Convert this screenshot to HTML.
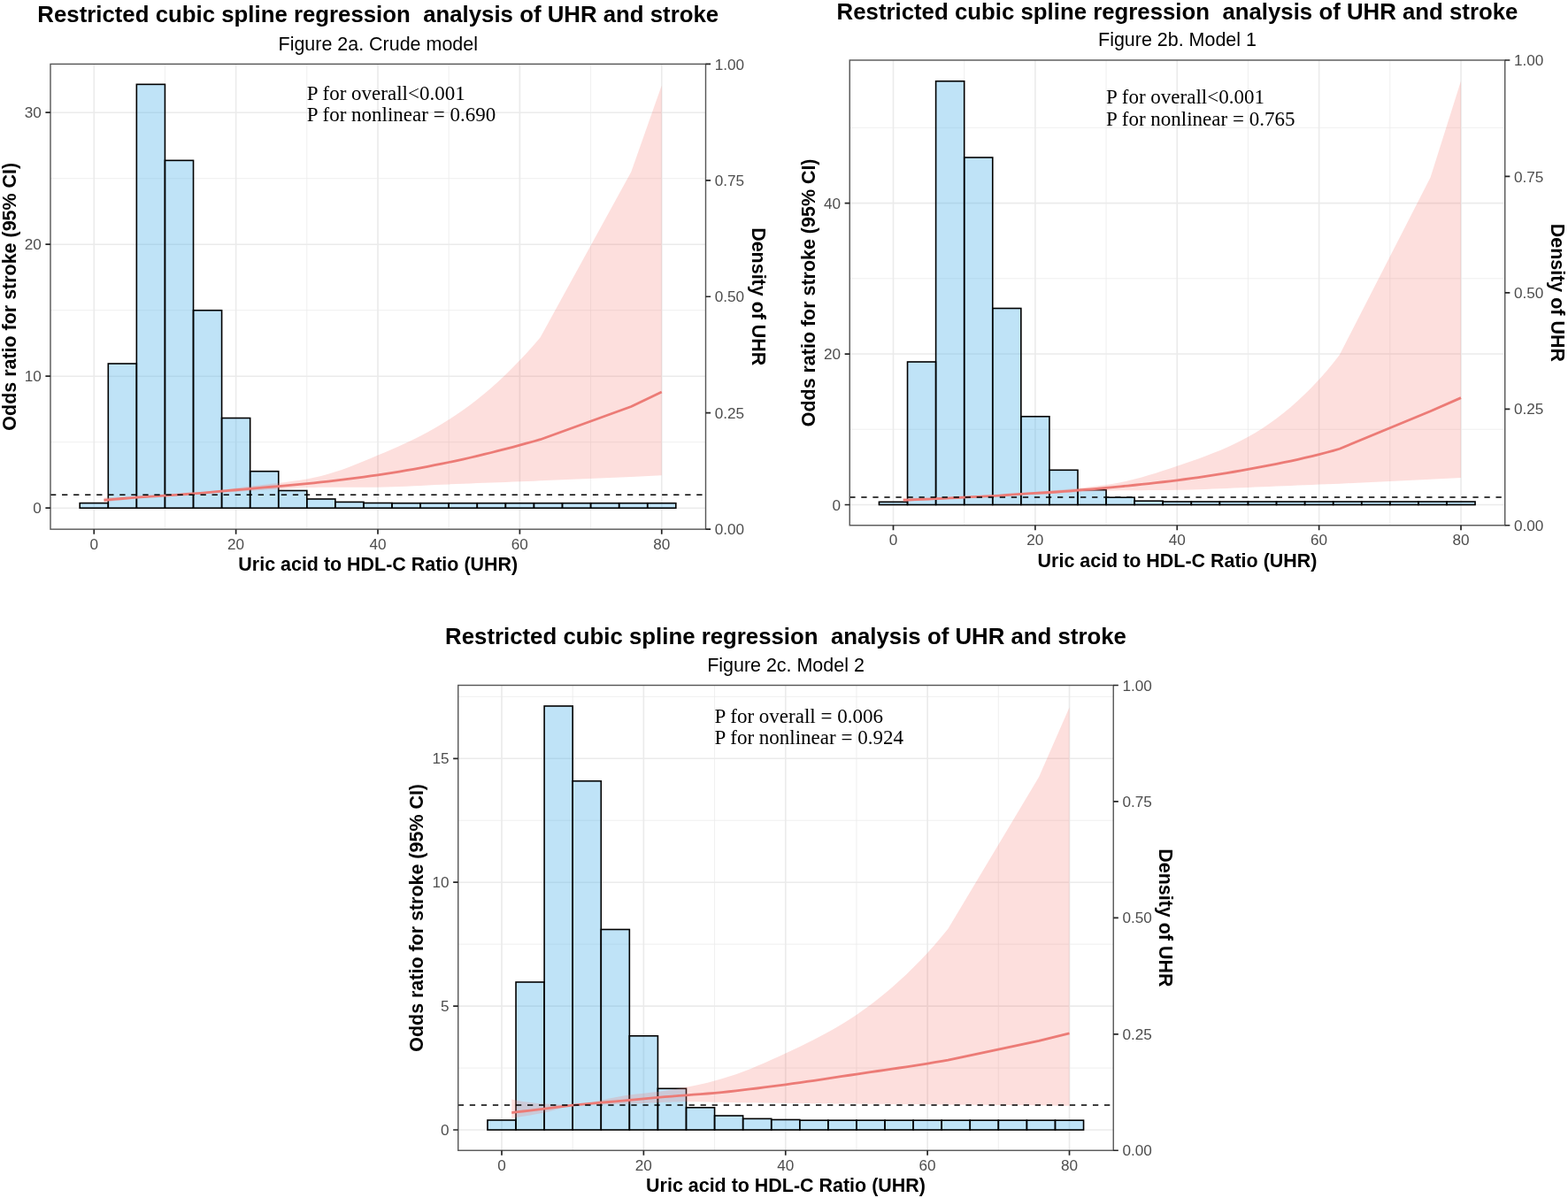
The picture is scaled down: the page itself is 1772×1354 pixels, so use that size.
<!DOCTYPE html>
<html lang="en">
<head>
<meta charset="utf-8">
<title>Restricted cubic spline regression analysis of UHR and stroke</title>
<style>
html,body{margin:0;padding:0;background:#fff;}
body{width:1772px;height:1354px;overflow:hidden;}
svg{display:block;}
text{font-family:"Liberation Sans",Arial,Helvetica,sans-serif;fill:#000;}
.ttl{font-size:25.80px;font-weight:bold;}
.sub{font-size:21.46px;}
.ax{font-size:21.46px;font-weight:bold;}
.tk text{font-size:17.17px;fill:#4D4D4D;}
.ann{font-family:"Liberation Serif","Times New Roman",Times,serif;font-size:23px;}
</style>
</head>
<body>
<svg width="1772" height="1354" viewBox="0 0 1772 1354">
<rect width="1772" height="1354" fill="#fff"/>
<g>
<text x="427.25" y="24.9" class="ttl" text-anchor="middle" xml:space="preserve">Restricted cubic spline regression  analysis of UHR and stroke</text>
<text x="427.25" y="57.1" class="sub" text-anchor="middle">Figure 2a. Crude model</text>
<rect x="57" y="72.4" width="740.5" height="525.75" fill="#fff"/>
<path d="M57 499.7H797.5M57 350.7H797.5M57 201.7H797.5M186.44 72.4V598.15M346.82 72.4V598.15M507.2 72.4V598.15M667.58 72.4V598.15" stroke="#EBEBEB" stroke-width="0.81" fill="none"/>
<path d="M57 574.2H797.5M57 425.2H797.5M57 276.2H797.5M57 127.2H797.5M106.25 72.4V598.15M266.63 72.4V598.15M427.01 72.4V598.15M587.39 72.4V598.15M747.77 72.4V598.15" stroke="#EBEBEB" stroke-width="1.63" fill="none"/>
<g fill="#56B4E9" fill-opacity="0.375" stroke="#000" stroke-width="1.6" stroke-linejoin="miter"><rect x="90.21" y="568.6" width="32.08" height="5.6"/><rect x="122.29" y="411" width="32.08" height="163.2"/><rect x="154.36" y="95.35" width="32.08" height="478.85"/><rect x="186.44" y="181.35" width="32.08" height="392.85"/><rect x="218.52" y="350.75" width="32.08" height="223.45"/><rect x="250.59" y="472.5" width="32.08" height="101.7"/><rect x="282.67" y="532.7" width="32.08" height="41.5"/><rect x="314.74" y="554.5" width="32.08" height="19.7"/><rect x="346.82" y="564" width="32.08" height="10.2"/><rect x="378.9" y="567.4" width="32.08" height="6.8"/><rect x="410.97" y="568.5" width="32.08" height="5.7"/><rect x="443.05" y="568.7" width="32.08" height="5.5"/><rect x="475.12" y="568.7" width="32.08" height="5.5"/><rect x="507.2" y="568.7" width="32.08" height="5.5"/><rect x="539.28" y="568.7" width="32.08" height="5.5"/><rect x="571.35" y="568.7" width="32.08" height="5.5"/><rect x="603.43" y="568.7" width="32.08" height="5.5"/><rect x="635.5" y="568.7" width="32.08" height="5.5"/><rect x="667.58" y="568.7" width="32.08" height="5.5"/><rect x="699.66" y="568.7" width="32.08" height="5.5"/><rect x="731.73" y="568.7" width="32.08" height="5.5"/></g>
<path d="M117.48 562.58L122.29 562.33L130.31 561.93L138.33 561.54L146.34 561.16L154.36 560.79L162.38 560.46L170.4 560.15L178.42 559.84L186.44 559.5L194.46 559.08L202.48 558.58L210.5 558.01L218.52 557.36L226.53 556.58L234.55 555.65L242.57 554.64L250.59 553.64L258.61 552.65L266.63 551.63L274.65 550.61L282.67 549.62L290.69 548.68L298.71 547.77L306.73 546.86L314.74 545.89L322.76 544.88L330.78 543.86L338.8 542.73L346.82 541.42L354.84 539.83L362.86 537.95L370.88 535.78L378.9 533.33L386.92 530.63L394.93 527.69L402.95 524.56L410.97 521.29L418.99 517.94L427.01 514.6L435.03 511.25L443.05 507.8L451.07 504.23L459.09 500.53L467.11 496.69L475.12 492.67L483.14 488.46L491.16 484.03L499.18 479.35L507.2 474.37L515.22 469.09L523.24 463.52L531.26 457.66L539.28 451.48L547.3 444.98L555.31 438.16L563.33 430.98L571.35 423.46L579.37 415.58L587.39 407.32L595.41 398.76L603.43 389.81L610.65 381.25L713.29 194.25L747.77 96.51L747.77 537.25L713.29 538.89L610.65 543.36L603.43 543.64L595.41 543.94L587.39 544.25L579.37 544.56L571.35 544.88L563.33 545.19L555.31 545.5L547.3 545.81L539.28 546.12L531.26 546.43L523.24 546.74L515.22 547.06L507.2 547.38L499.18 547.73L491.16 548.12L483.14 548.54L475.12 548.96L467.11 549.37L459.09 549.75L451.07 550.09L443.05 550.36L435.03 550.55L427.01 550.66L418.99 550.7L410.97 550.74L402.95 550.76L394.93 550.78L386.92 550.79L378.9 550.81L370.88 550.83L362.86 550.86L354.84 550.9L346.82 550.96L338.8 551.21L330.78 551.73L322.76 552.35L314.74 552.89L306.73 553.35L298.71 553.79L290.69 554.23L282.67 554.68L274.65 555.15L266.63 555.64L258.61 556.13L250.59 556.62L242.57 557.14L234.55 557.69L226.53 558.18L218.52 558.56L210.5 558.78L202.48 558.95L194.46 559.15L186.44 559.54L178.42 560.34L170.4 561.39L162.38 562.49L154.36 563.47L146.34 564.36L138.33 565.24L130.31 566.08L122.29 566.89L117.48 567.35Z" fill="#F8766D" fill-opacity="0.23"/>
<path d="M117.48 565.26L122.29 564.85L130.31 564.17L138.33 563.49L146.34 562.83L154.36 562.21L162.38 561.63L170.4 561.09L178.42 560.57L186.44 560.05L194.46 559.53L202.48 559.03L210.5 558.52L218.52 557.96L226.53 557.33L234.55 556.64L242.57 555.92L250.59 555.2L258.61 554.48L266.63 553.75L274.65 553.02L282.67 552.3L290.69 551.6L298.71 550.92L306.73 550.24L314.74 549.56L322.76 548.88L330.78 548.17L338.8 547.42L346.82 546.63L354.84 545.81L362.86 544.94L370.88 544.05L378.9 543.13L386.92 542.17L394.93 541.17L402.95 540.14L410.97 539.07L418.99 537.95L427.01 536.8L435.03 535.6L443.05 534.34L451.07 533.04L459.09 531.68L467.11 530.26L475.12 528.8L483.14 527.29L491.16 525.74L499.18 524.14L507.2 522.5L515.22 520.81L523.24 519.06L531.26 517.25L539.28 515.38L547.3 513.46L555.31 511.49L563.33 509.47L571.35 507.4L579.37 505.28L587.39 503.13L595.41 500.96L603.43 498.77L610.65 496.72L713.29 459.47L747.77 442.93" fill="none" stroke="#EC7B76" stroke-width="2.8" stroke-linejoin="round"/>
<path d="M57 559.3H797.5" stroke="#000" stroke-width="1.63" stroke-dasharray="6.3 6.74" fill="none"/>
<text x="346.82" y="113.1" class="ann">P for overall&lt;0.001</text>
<text x="346.82" y="137" class="ann">P for nonlinear = 0.690</text>
<rect x="57" y="72.4" width="740.5" height="525.75" fill="none" stroke="#555555" stroke-width="1.4"/>
<path d="M106.25 598.15v5.6M266.63 598.15v5.6M427.01 598.15v5.6M587.39 598.15v5.6M747.77 598.15v5.6M57 574.2h-5.6M57 425.2h-5.6M57 276.2h-5.6M57 127.2h-5.6M797.5 598.15h5.6M797.5 466.71h5.6M797.5 335.27h5.6M797.5 203.84h5.6M797.5 72.4h5.6" stroke="#262626" stroke-width="1.7" fill="none"/>
<g class="tk"><text x="106.25" y="620.75" text-anchor="middle">0</text><text x="266.63" y="620.75" text-anchor="middle">20</text><text x="427.01" y="620.75" text-anchor="middle">40</text><text x="587.39" y="620.75" text-anchor="middle">60</text><text x="747.77" y="620.75" text-anchor="middle">80</text><text x="46.8" y="580.3" text-anchor="end">0</text><text x="46.8" y="431.3" text-anchor="end">10</text><text x="46.8" y="282.3" text-anchor="end">20</text><text x="46.8" y="133.3" text-anchor="end">30</text><text x="807.7" y="604.25">0.00</text><text x="807.7" y="472.81">0.25</text><text x="807.7" y="341.38">0.50</text><text x="807.7" y="209.94">0.75</text><text x="807.7" y="78.5">1.00</text></g>
<text x="427.25" y="645.15" class="ax" text-anchor="middle">Uric acid to HDL-C Ratio (UHR)</text>
<text transform="translate(17.6 335.27) rotate(-90)" class="ax" text-anchor="middle">Odds ratio for stroke (95% CI)</text>
<text transform="translate(849.7 335.27) rotate(90)" class="ax" text-anchor="middle">Density of UHR</text>
</g>
<g>
<text x="1330.5" y="21.6" class="ttl" text-anchor="middle" xml:space="preserve">Restricted cubic spline regression  analysis of UHR and stroke</text>
<text x="1330.5" y="52" class="sub" text-anchor="middle">Figure 2b. Model 1</text>
<rect x="960.25" y="68" width="740.5" height="525.75" fill="#fff"/>
<path d="M960.25 485.27H1700.75M960.25 314.82H1700.75M960.25 144.37H1700.75M1089.69 68V593.75M1250.07 68V593.75M1410.45 68V593.75M1570.83 68V593.75" stroke="#EBEBEB" stroke-width="0.81" fill="none"/>
<path d="M960.25 570.5H1700.75M960.25 400.05H1700.75M960.25 229.6H1700.75M1009.5 68V593.75M1169.88 68V593.75M1330.26 68V593.75M1490.64 68V593.75M1651.02 68V593.75" stroke="#EBEBEB" stroke-width="1.63" fill="none"/>
<g fill="#56B4E9" fill-opacity="0.375" stroke="#000" stroke-width="1.6" stroke-linejoin="miter"><rect x="993.46" y="567.3" width="32.08" height="3.2"/><rect x="1025.54" y="409" width="32.08" height="161.5"/><rect x="1057.61" y="91.75" width="32.08" height="478.75"/><rect x="1089.69" y="178" width="32.08" height="392.5"/><rect x="1121.77" y="348.5" width="32.08" height="222"/><rect x="1153.84" y="470.75" width="32.08" height="99.75"/><rect x="1185.92" y="531.3" width="32.08" height="39.2"/><rect x="1217.99" y="553.7" width="32.08" height="16.8"/><rect x="1250.07" y="562.2" width="32.08" height="8.3"/><rect x="1282.15" y="566.2" width="32.08" height="4.3"/><rect x="1314.22" y="567" width="32.08" height="3.5"/><rect x="1346.3" y="567" width="32.08" height="3.5"/><rect x="1378.37" y="567" width="32.08" height="3.5"/><rect x="1410.45" y="567" width="32.08" height="3.5"/><rect x="1442.53" y="567" width="32.08" height="3.5"/><rect x="1474.6" y="567" width="32.08" height="3.5"/><rect x="1506.68" y="567" width="32.08" height="3.5"/><rect x="1538.75" y="567" width="32.08" height="3.5"/><rect x="1570.83" y="567" width="32.08" height="3.5"/><rect x="1602.91" y="567" width="32.08" height="3.5"/><rect x="1634.98" y="567" width="32.08" height="3.5"/></g>
<path d="M1020.73 562.83L1025.54 562.77L1033.56 562.68L1041.58 562.59L1049.6 562.5L1057.61 562.4L1065.63 562.32L1073.65 562.25L1081.67 562.17L1089.69 562.05L1097.71 561.85L1105.73 561.39L1113.75 560.76L1121.77 560.1L1129.79 559.45L1137.8 558.74L1145.82 558L1153.84 557.29L1161.86 556.62L1169.88 555.98L1177.9 555.33L1185.92 554.65L1193.94 553.94L1201.96 553.23L1209.97 552.51L1217.99 551.76L1226.01 550.96L1234.03 550.08L1242.05 549.1L1250.07 548L1258.09 546.71L1266.11 545.21L1274.13 543.49L1282.15 541.56L1290.16 539.43L1298.18 537.12L1306.2 534.65L1314.22 532.05L1322.24 529.38L1330.26 526.69L1338.28 524L1346.3 521.24L1354.32 518.39L1362.34 515.44L1370.36 512.36L1378.37 509.13L1386.39 505.7L1394.41 502.04L1402.43 498.09L1410.45 493.8L1418.47 489.14L1426.49 484.13L1434.51 478.75L1442.53 472.97L1450.55 466.78L1458.56 460.16L1466.58 453.1L1474.6 445.56L1482.62 437.54L1490.64 429.03L1498.66 419.91L1506.68 410.15L1513.9 400.9L1616.54 200.62L1651.02 91.54L1651.02 540.07L1616.54 541.78L1513.9 546.64L1506.68 546.93L1498.66 547.25L1490.64 547.57L1482.62 547.91L1474.6 548.25L1466.58 548.59L1458.56 548.93L1450.55 549.27L1442.53 549.6L1434.51 549.94L1426.49 550.26L1418.47 550.58L1410.45 550.9L1402.43 551.22L1394.41 551.56L1386.39 551.91L1378.37 552.26L1370.36 552.6L1362.34 552.91L1354.32 553.2L1346.3 553.44L1338.28 553.65L1330.26 553.8L1322.24 553.9L1314.22 553.99L1306.2 554.05L1298.18 554.11L1290.16 554.16L1282.15 554.21L1274.13 554.27L1266.11 554.35L1258.09 554.44L1250.07 554.56L1242.05 554.79L1234.03 555.16L1226.01 555.64L1217.99 556.17L1209.97 556.72L1201.96 557.25L1193.94 557.74L1185.92 558.14L1177.9 558.48L1169.88 558.79L1161.86 559.09L1153.84 559.42L1145.82 559.8L1137.8 560.2L1129.79 560.6L1121.77 560.95L1113.75 561.24L1105.73 561.5L1097.71 561.8L1089.69 562.2L1081.67 562.79L1073.65 563.46L1065.63 564.12L1057.61 564.7L1049.6 565.22L1041.58 565.71L1033.56 566.17L1025.54 566.6L1020.73 566.84Z" fill="#F8766D" fill-opacity="0.23"/>
<path d="M1020.73 565.22L1025.54 565.03L1033.56 564.72L1041.58 564.38L1049.6 564.04L1057.61 563.68L1065.63 563.3L1073.65 562.91L1081.67 562.51L1089.69 562.11L1097.71 561.72L1105.73 561.34L1113.75 560.95L1121.77 560.53L1129.79 560.04L1137.8 559.49L1145.82 558.93L1153.84 558.4L1161.86 557.92L1169.88 557.47L1177.9 557.02L1185.92 556.52L1193.94 555.98L1201.96 555.4L1209.97 554.79L1217.99 554.14L1226.01 553.47L1234.03 552.77L1242.05 552.05L1250.07 551.32L1258.09 550.58L1266.11 549.82L1274.13 549.05L1282.15 548.24L1290.16 547.42L1298.18 546.56L1306.2 545.68L1314.22 544.76L1322.24 543.8L1330.26 542.8L1338.28 541.76L1346.3 540.67L1354.32 539.55L1362.34 538.37L1370.36 537.16L1378.37 535.9L1386.39 534.6L1394.41 533.25L1402.43 531.87L1410.45 530.44L1418.47 528.98L1426.49 527.49L1434.51 525.95L1442.53 524.37L1450.55 522.73L1458.56 521.04L1466.58 519.29L1474.6 517.46L1482.62 515.56L1490.64 513.57L1498.66 511.5L1506.68 509.33L1513.9 507.26L1616.54 464.82L1651.02 449.65" fill="none" stroke="#EC7B76" stroke-width="2.8" stroke-linejoin="round"/>
<path d="M960.25 561.98H1700.75" stroke="#000" stroke-width="1.63" stroke-dasharray="6.3 6.74" fill="none"/>
<text x="1250.07" y="117" class="ann">P for overall&lt;0.001</text>
<text x="1250.07" y="141.75" class="ann">P for nonlinear = 0.765</text>
<rect x="960.25" y="68" width="740.5" height="525.75" fill="none" stroke="#555555" stroke-width="1.4"/>
<path d="M1009.5 593.75v5.6M1169.88 593.75v5.6M1330.26 593.75v5.6M1490.64 593.75v5.6M1651.02 593.75v5.6M960.25 570.5h-5.6M960.25 400.05h-5.6M960.25 229.6h-5.6M1700.75 593.75h5.6M1700.75 462.31h5.6M1700.75 330.88h5.6M1700.75 199.44h5.6M1700.75 68h5.6" stroke="#262626" stroke-width="1.7" fill="none"/>
<g class="tk"><text x="1009.5" y="616.35" text-anchor="middle">0</text><text x="1169.88" y="616.35" text-anchor="middle">20</text><text x="1330.26" y="616.35" text-anchor="middle">40</text><text x="1490.64" y="616.35" text-anchor="middle">60</text><text x="1651.02" y="616.35" text-anchor="middle">80</text><text x="950.05" y="576.6" text-anchor="end">0</text><text x="950.05" y="406.15" text-anchor="end">20</text><text x="950.05" y="235.7" text-anchor="end">40</text><text x="1710.95" y="599.85">0.00</text><text x="1710.95" y="468.41">0.25</text><text x="1710.95" y="336.98">0.50</text><text x="1710.95" y="205.54">0.75</text><text x="1710.95" y="74.1">1.00</text></g>
<text x="1330.5" y="640.75" class="ax" text-anchor="middle">Uric acid to HDL-C Ratio (UHR)</text>
<text transform="translate(920.85 330.88) rotate(-90)" class="ax" text-anchor="middle">Odds ratio for stroke (95% CI)</text>
<text transform="translate(1752.95 330.88) rotate(90)" class="ax" text-anchor="middle">Density of UHR</text>
</g>
<g>
<text x="888" y="728.1" class="ttl" text-anchor="middle" xml:space="preserve">Restricted cubic spline regression  analysis of UHR and stroke</text>
<text x="888" y="758.5" class="sub" text-anchor="middle">Figure 2c. Model 2</text>
<rect x="517.75" y="774.5" width="740.5" height="525.75" fill="#fff"/>
<path d="M517.75 1207.05H1258.25M517.75 1067.15H1258.25M517.75 927.25H1258.25M517.75 787.35H1258.25M647.19 774.5V1300.25M807.57 774.5V1300.25M967.95 774.5V1300.25M1128.33 774.5V1300.25" stroke="#EBEBEB" stroke-width="0.81" fill="none"/>
<path d="M517.75 1277H1258.25M517.75 1137.1H1258.25M517.75 997.2H1258.25M517.75 857.3H1258.25M567 774.5V1300.25M727.38 774.5V1300.25M887.76 774.5V1300.25M1048.14 774.5V1300.25M1208.52 774.5V1300.25" stroke="#EBEBEB" stroke-width="1.63" fill="none"/>
<g fill="#56B4E9" fill-opacity="0.375" stroke="#000" stroke-width="1.6" stroke-linejoin="miter"><rect x="550.96" y="1266" width="32.08" height="11"/><rect x="583.04" y="1110" width="32.08" height="167"/><rect x="615.11" y="798" width="32.08" height="479"/><rect x="647.19" y="882.75" width="32.08" height="394.25"/><rect x="679.27" y="1050.5" width="32.08" height="226.5"/><rect x="711.34" y="1170.8" width="32.08" height="106.2"/><rect x="743.42" y="1230.3" width="32.08" height="46.7"/><rect x="775.49" y="1251.8" width="32.08" height="25.2"/><rect x="807.57" y="1261" width="32.08" height="16"/><rect x="839.65" y="1264.4" width="32.08" height="12.6"/><rect x="871.72" y="1265.5" width="32.08" height="11.5"/><rect x="903.8" y="1266.2" width="32.08" height="10.8"/><rect x="935.87" y="1266.2" width="32.08" height="10.8"/><rect x="967.95" y="1266.2" width="32.08" height="10.8"/><rect x="1000.03" y="1266.2" width="32.08" height="10.8"/><rect x="1032.1" y="1266.2" width="32.08" height="10.8"/><rect x="1064.18" y="1266.2" width="32.08" height="10.8"/><rect x="1096.25" y="1266.2" width="32.08" height="10.8"/><rect x="1128.33" y="1266.2" width="32.08" height="10.8"/><rect x="1160.41" y="1266.2" width="32.08" height="10.8"/><rect x="1192.48" y="1266.2" width="32.08" height="10.8"/></g>
<path d="M578.23 1242.58L583.04 1243.51L591.06 1244.9L599.08 1246.07L607.1 1246.99L615.11 1247.62L623.13 1248.09L631.15 1248.5L639.17 1248.82L647.19 1249L655.21 1248.81L663.23 1247.44L671.25 1245.36L679.27 1243.42L687.28 1241.86L695.3 1240.29L703.32 1238.82L711.34 1237.55L719.36 1236.54L727.38 1235.69L735.4 1234.86L743.42 1233.91L751.44 1232.81L759.46 1231.61L767.48 1230.3L775.49 1228.87L783.51 1227.3L791.53 1225.56L799.55 1223.66L807.57 1221.6L815.59 1219.34L823.61 1216.86L831.63 1214.15L839.65 1211.24L847.66 1208.13L855.68 1204.85L863.7 1201.42L871.72 1197.86L879.74 1194.22L887.76 1190.54L895.78 1186.82L903.8 1183L911.82 1179.08L919.84 1175.03L927.86 1170.85L935.87 1166.5L943.89 1161.96L951.91 1157.2L959.93 1152.19L967.95 1146.89L975.97 1141.3L983.99 1135.42L992.01 1129.25L1000.03 1122.78L1008.05 1115.99L1016.06 1108.87L1024.08 1101.42L1032.1 1093.62L1040.12 1085.46L1048.14 1076.94L1056.16 1068L1064.18 1058.61L1071.4 1049.8L1174.04 878.28L1208.52 799.38L1208.52 1249.86L1174.04 1249.3L1071.4 1248.46L1064.18 1248.38L1056.16 1248.27L1048.14 1248.18L1040.12 1248.11L1032.1 1248.05L1024.08 1247.99L1016.06 1247.94L1008.05 1247.89L1000.03 1247.84L992.01 1247.79L983.99 1247.74L975.97 1247.68L967.95 1247.62L959.93 1247.55L951.91 1247.48L943.89 1247.4L935.87 1247.32L927.86 1247.24L919.84 1247.15L911.82 1247.06L903.8 1246.97L895.78 1246.88L887.76 1246.78L879.74 1246.68L871.72 1246.58L863.7 1246.48L855.68 1246.37L847.66 1246.26L839.65 1246.15L831.63 1246.03L823.61 1245.91L815.59 1245.79L807.57 1245.66L799.55 1245.5L791.53 1245.32L783.51 1245.17L775.49 1245.1L767.48 1245.22L759.46 1245.51L751.44 1245.87L743.42 1246.22L735.4 1246.57L727.38 1246.95L719.36 1247.31L711.34 1247.62L703.32 1247.87L695.3 1248.08L687.28 1248.28L679.27 1248.46L671.25 1248.6L663.23 1248.73L655.21 1248.9L647.19 1249.36L639.17 1250.96L631.15 1253.2L623.13 1255.5L615.11 1257.41L607.1 1258.99L599.08 1260.46L591.06 1261.84L583.04 1263.12L578.23 1263.85Z" fill="#F8766D" fill-opacity="0.23"/>
<path d="M578.23 1257.53L583.04 1256.96L591.06 1256.01L599.08 1255.05L607.1 1254.08L615.11 1253.11L623.13 1252.11L631.15 1251.1L639.17 1250.12L647.19 1249.22L655.21 1248.41L663.23 1247.66L671.25 1246.94L679.27 1246.22L687.28 1245.51L695.3 1244.83L703.32 1244.14L711.34 1243.42L719.36 1242.66L727.38 1241.87L735.4 1241.08L743.42 1240.35L751.44 1239.68L759.46 1239.05L767.48 1238.45L775.49 1237.83L783.51 1237.22L791.53 1236.61L799.55 1235.99L807.57 1235.31L815.59 1234.55L823.61 1233.74L831.63 1232.87L839.65 1231.95L847.66 1230.98L855.68 1229.99L863.7 1228.96L871.72 1227.91L879.74 1226.85L887.76 1225.8L895.78 1224.72L903.8 1223.61L911.82 1222.47L919.84 1221.3L927.86 1220.11L935.87 1218.9L943.89 1217.68L951.91 1216.46L959.93 1215.25L967.95 1214.05L975.97 1212.86L983.99 1211.68L992.01 1210.51L1000.03 1209.34L1008.05 1208.17L1016.06 1206.99L1024.08 1205.79L1032.1 1204.56L1040.12 1203.31L1048.14 1202.01L1056.16 1200.7L1064.18 1199.35L1071.4 1198.1L1174.04 1176.27L1208.52 1167.88" fill="none" stroke="#EC7B76" stroke-width="2.8" stroke-linejoin="round"/>
<path d="M517.75 1249.02H1258.25" stroke="#000" stroke-width="1.63" stroke-dasharray="6.3 6.74" fill="none"/>
<text x="807.57" y="816.5" class="ann">P for overall = 0.006</text>
<text x="807.57" y="841.1" class="ann">P for nonlinear = 0.924</text>
<rect x="517.75" y="774.5" width="740.5" height="525.75" fill="none" stroke="#555555" stroke-width="1.4"/>
<path d="M567 1300.25v5.6M727.38 1300.25v5.6M887.76 1300.25v5.6M1048.14 1300.25v5.6M1208.52 1300.25v5.6M517.75 1277h-5.6M517.75 1137.1h-5.6M517.75 997.2h-5.6M517.75 857.3h-5.6M1258.25 1300.25h5.6M1258.25 1168.81h5.6M1258.25 1037.38h5.6M1258.25 905.94h5.6M1258.25 774.5h5.6" stroke="#262626" stroke-width="1.7" fill="none"/>
<g class="tk"><text x="567" y="1322.85" text-anchor="middle">0</text><text x="727.38" y="1322.85" text-anchor="middle">20</text><text x="887.76" y="1322.85" text-anchor="middle">40</text><text x="1048.14" y="1322.85" text-anchor="middle">60</text><text x="1208.52" y="1322.85" text-anchor="middle">80</text><text x="507.55" y="1283.1" text-anchor="end">0</text><text x="507.55" y="1143.2" text-anchor="end">5</text><text x="507.55" y="1003.3" text-anchor="end">10</text><text x="507.55" y="863.4" text-anchor="end">15</text><text x="1268.45" y="1306.35">0.00</text><text x="1268.45" y="1174.91">0.25</text><text x="1268.45" y="1043.47">0.50</text><text x="1268.45" y="912.04">0.75</text><text x="1268.45" y="780.6">1.00</text></g>
<text x="888" y="1347.25" class="ax" text-anchor="middle">Uric acid to HDL-C Ratio (UHR)</text>
<text transform="translate(478.35 1037.38) rotate(-90)" class="ax" text-anchor="middle">Odds ratio for stroke (95% CI)</text>
<text transform="translate(1310.45 1037.38) rotate(90)" class="ax" text-anchor="middle">Density of UHR</text>
</g>
</svg>
</body>
</html>
